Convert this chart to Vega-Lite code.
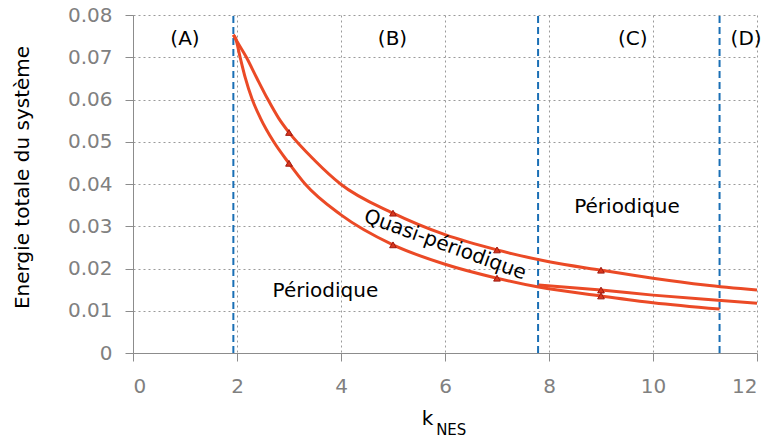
{
  "$schema": "https://vega.github.io/schema/vega-lite/v6.json",
  "width": 624,
  "height": 338,
  "autosize": "none",
  "padding": {"left": 133, "top": 15, "right": 18, "bottom": 89},
  "background": "white",
  "config": {
    "view": {"stroke": null},
    "font": "DejaVu Sans",
    "axis": {
      "labelFont": "DejaVu Sans",
      "titleFont": "DejaVu Sans",
      "labelColor": "#808080",
      "labelFontSize": 20,
      "titleFontSize": 18,
      "titleFontWeight": "normal",
      "titleColor": "#000000",
      "domainColor": "#8c8c8c",
      "tickColor": "#8c8c8c",
      "tickSize": 8,
      "gridColor": "#9a9a9a",
      "gridDash": [2, 3],
      "gridWidth": 1
    }
  },
  "datasets": {
    "courbes": [
      {"s": "haut", "k": 1.93, "v": 0.0753},
      {"s": "haut", "k": 1.96, "v": 0.0746},
      {"s": "haut", "k": 2.18, "v": 0.0700},
      {"s": "haut", "k": 2.38, "v": 0.0651},
      {"s": "haut", "k": 2.59, "v": 0.0601},
      {"s": "haut", "k": 2.80, "v": 0.0556},
      {"s": "haut", "k": 3.0, "v": 0.0522},
      {"s": "haut", "k": 3.5, "v": 0.0455},
      {"s": "haut", "k": 3.99, "v": 0.040},
      {"s": "haut", "k": 5.0, "v": 0.0331},
      {"s": "haut", "k": 6.0, "v": 0.0280},
      {"s": "haut", "k": 7.0, "v": 0.0244},
      {"s": "haut", "k": 8.0, "v": 0.0216},
      {"s": "haut", "k": 9.0, "v": 0.0196},
      {"s": "haut", "k": 10.0, "v": 0.0177},
      {"s": "haut", "k": 11.0, "v": 0.0161},
      {"s": "haut", "k": 12.0, "v": 0.0149},
      {"s": "bas", "k": 1.93, "v": 0.0753},
      {"s": "bas", "k": 1.97, "v": 0.0746},
      {"s": "bas", "k": 2.06, "v": 0.0700},
      {"s": "bas", "k": 2.16, "v": 0.0651},
      {"s": "bas", "k": 2.29, "v": 0.0601},
      {"s": "bas", "k": 2.45, "v": 0.0556},
      {"s": "bas", "k": 2.70, "v": 0.0501},
      {"s": "bas", "k": 3.0, "v": 0.0449},
      {"s": "bas", "k": 3.31, "v": 0.040},
      {"s": "bas", "k": 4.0, "v": 0.0327},
      {"s": "bas", "k": 5.0, "v": 0.0256},
      {"s": "bas", "k": 6.0, "v": 0.0210},
      {"s": "bas", "k": 7.0, "v": 0.0177},
      {"s": "bas", "k": 7.8, "v": 0.0156},
      {"s": "bas", "k": 9.0, "v": 0.0135},
      {"s": "bas", "k": 10.0, "v": 0.0119},
      {"s": "bas", "k": 11.28, "v": 0.0104},
      {"s": "milieu", "k": 7.8, "v": 0.0161},
      {"s": "milieu", "k": 9.0, "v": 0.0149},
      {"s": "milieu", "k": 10.0, "v": 0.0137},
      {"s": "milieu", "k": 11.0, "v": 0.0127},
      {"s": "milieu", "k": 12.0, "v": 0.0118}
    ],
    "fleches": [
      {"k": 3, "v": 0.0522},
      {"k": 3, "v": 0.0449},
      {"k": 5, "v": 0.0331},
      {"k": 5, "v": 0.0256},
      {"k": 7, "v": 0.0244},
      {"k": 7, "v": 0.0177},
      {"k": 9, "v": 0.0196},
      {"k": 9, "v": 0.0149},
      {"k": 9, "v": 0.0135}
    ],
    "limites": [
      {"k": 1.93},
      {"k": 7.79},
      {"k": 11.28}
    ],
    "zones": [
      {"k": 1.0, "v": 0.0743, "t": "(A)"},
      {"k": 4.99, "v": 0.0743, "t": "(B)"},
      {"k": 9.61, "v": 0.0743, "t": "(C)"},
      {"k": 11.79, "v": 0.0743, "t": "(D)"},
      {"k": 3.70, "v": 0.0147, "t": "Périodique"},
      {"k": 9.5, "v": 0.0346, "t": "Périodique"}
    ],
    "quasi": [
      {"k": 6.0, "v": 0.0256, "t": "Quasi-périodique"}
    ],
    "indice": [
      {"k": 6.12, "v": -0.0195, "t": "NES"}
    ]
  },
  "layer": [
    {
      "data": {"name": "limites"},
      "mark": {"type": "rule", "color": "#1a6fb5", "strokeWidth": 2, "strokeDash": [7, 4]},
      "encoding": {
        "x": {
          "field": "k",
          "type": "quantitative",
          "scale": {"domain": [0, 12], "nice": false},
          "axis": {
            "title": "k",
            "values": [0, 2, 4, 6, 8, 10, 12],
            "grid": true,
            "labelPadding": 15,
            "labelDx": 3,
            "titlePadding": 12,
            "titleFontSize": 20,
            "titleX": 294
          }
        },
        "y": {"datum": 0, "type": "quantitative"},
        "y2": {"datum": 0.08}
      }
    },
    {
      "data": {"name": "courbes"},
      "mark": {"type": "line", "color": "#eb4a26", "strokeWidth": 3, "interpolate": "monotone"},
      "encoding": {
        "x": {"field": "k", "type": "quantitative"},
        "y": {
          "field": "v",
          "type": "quantitative",
          "scale": {"domain": [0, 0.08], "nice": false},
          "axis": {
            "title": "Energie totale du système",
            "values": [0, 0.01, 0.02, 0.03, 0.04, 0.05, 0.06, 0.07, 0.08],
            "format": "~g",
            "grid": true,
            "labelPadding": 13,
            "titleFontSize": 20,
            "titleX": -101,
            "titleY": 162
          }
        },
        "detail": {"field": "s"},
        "order": {"field": "k", "type": "quantitative"}
      }
    },
    {
      "data": {"name": "fleches"},
      "mark": {"type": "point", "shape": "triangle-up", "filled": true, "color": "#d8361c", "stroke": "#9e1a10", "strokeWidth": 1, "size": 45, "opacity": 1},
      "encoding": {
        "x": {"field": "k", "type": "quantitative"},
        "y": {"field": "v", "type": "quantitative"}
      }
    },
    {
      "data": {"name": "zones"},
      "mark": {"type": "text", "fontSize": 20, "color": "#000000", "align": "center", "baseline": "middle"},
      "encoding": {
        "x": {"field": "k", "type": "quantitative"},
        "y": {"field": "v", "type": "quantitative"},
        "text": {"field": "t"}
      }
    },
    {
      "data": {"name": "quasi"},
      "mark": {"type": "text", "fontSize": 20, "color": "#000000", "align": "center", "baseline": "middle", "angle": 20},
      "encoding": {
        "x": {"field": "k", "type": "quantitative"},
        "y": {"field": "v", "type": "quantitative"},
        "text": {"field": "t"}
      }
    },
    {
      "data": {"name": "indice"},
      "mark": {"type": "text", "fontSize": 15, "color": "#000000", "align": "center", "baseline": "alphabetic", "clip": false},
      "encoding": {
        "x": {"field": "k", "type": "quantitative"},
        "y": {"field": "v", "type": "quantitative"},
        "text": {"field": "t"}
      }
    }
  ]
}
